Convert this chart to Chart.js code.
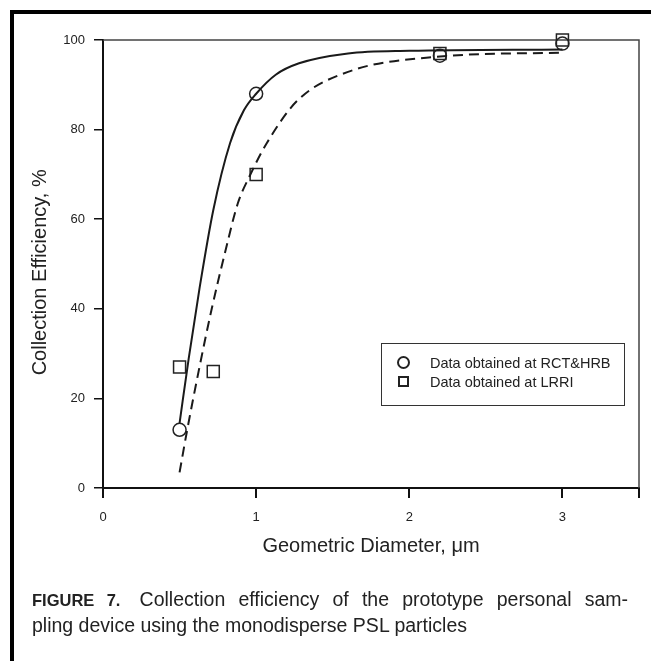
<!DOCTYPE html>
<html>
<head>
<meta charset="utf-8">
<script src="https://cdn.jsdelivr.net/npm/chart.js@4.4.1/dist/chart.umd.min.js"></script>
<style>
  body { margin: 0; background: #fff; font-family: "Liberation Sans", Arial, sans-serif; color: #222; }
  #wrap { position: relative; width: 651px; height: 661px; overflow: hidden; }
  #frame { position: absolute; left: 10px; top: 10px; width: 700px; height: 700px;
           border-left: 4px solid #000; border-top: 4px solid #000; }
  #chartBox { position: absolute; left: 0; top: 0; width: 651px; height: 661px; }
  #legend { position: absolute; left: 381px; top: 343px; width: 244px; height: 63px;
            border: 1px solid #333; box-sizing: border-box; font-size: 14.5px; }
  .row { position: absolute; left: 48px; height: 18px; line-height: 18px; white-space: nowrap; }
  .sym { position: absolute; box-sizing: border-box; border: 2px solid #222; }
  #caption { position: absolute; left: 32px; top: 587px; width: 596px; font-size: 19.5px; line-height: 25px; }
  #caption .l1 { text-align: justify; text-align-last: justify; white-space: nowrap; }
  #caption .l2 { white-space: nowrap; }
  #caption b { font-size: 16.5px; margin-right: 6px; }
</style>
</head>
<body>
<div id="wrap">
  <div id="frame"></div>
  <div id="chartBox"><canvas id="effChart"></canvas></div>
  <div id="legend">
    <div class="sym" style="left:15px; top:12px; width:13px; height:13px; border-radius:50%;"></div>
    <div class="row" style="top:10px;">Data obtained at RCT&amp;HRB</div>
    <div class="sym" style="left:16px; top:32px; width:11px; height:11px;"></div>
    <div class="row" style="top:29px;">Data obtained at LRRI</div>
  </div>
  <div id="caption">
    <div class="l1"><b>FIGURE 7.</b> Collection efficiency of the prototype personal sam-</div>
    <div class="l2">pling device using the monodisperse PSL particles</div>
  </div>
</div>
<script>
const rctX = [0.5, 1.0, 2.2, 3.0];
const rctY = [13, 88, 96.5, 99.2];
const lrriX = [0.5, 0.72, 1.0, 2.2, 3.0];
const lrriY = [27, 26, 70, 97, 100];

// fitted curves
const fitRctX = [0.5, 0.56, 0.63, 0.72, 0.83, 0.92, 1.0, 1.13, 1.28, 1.6, 2.0, 3.0];
const fitRctY = [14.5, 29, 44.5, 62, 77, 84.3, 88, 92.3, 94.8, 97, 97.6, 97.9];
const fitLrriX = [0.5, 0.55, 0.63, 0.71, 0.8, 0.88, 0.96, 1.07, 1.27, 1.61, 2.2, 3.0];
const fitLrriY = [3.5, 13, 27, 40, 53, 63.5, 69.8, 77, 86.5, 93, 96.3, 97.2];

// axis ticks
const xTickVals = [0, 1, 2, 3, 3.5];
const xTickLabels = ['0', '1', '2', '3', ''];
const yTickVals = [0, 20, 40, 60, 80, 100];

function pts(xs, ys) {
    return xs.map((x, i) => ({x: x, y: ys[i]}));
}

// thin box on top and right of the plot
const frameBox = {
    id: 'frameBox',
    beforeDatasetsDraw(chart) {
        const {ctx, chartArea: a} = chart;
        ctx.save();
        ctx.strokeStyle = '#444';
        ctx.lineWidth = 1.5;
        ctx.beginPath();
        ctx.moveTo(a.left, a.top);
        ctx.lineTo(a.right, a.top);
        ctx.lineTo(a.right, a.bottom);
        ctx.stroke();
        ctx.restore();
    }
};

const tickFont = {family: 'Liberation Sans', size: 13};
const titleFont = {family: 'Liberation Sans', size: 20};

new Chart(document.getElementById('effChart'), {
    type: 'scatter',
    data: {
        datasets: [
            {
                label: 'fit RCT&HRB',
                data: pts(fitRctX, fitRctY),
                showLine: true,
                cubicInterpolationMode: 'monotone',
                borderColor: '#1a1a1a',
                borderWidth: 2,
                pointRadius: 0,
                clip: false
            },
            {
                label: 'fit LRRI',
                data: pts(fitLrriX, fitLrriY),
                showLine: true,
                cubicInterpolationMode: 'monotone',
                borderColor: '#1a1a1a',
                borderWidth: 2,
                borderDash: [10, 6],
                pointRadius: 0,
                clip: false
            },
            {
                label: 'Data obtained at RCT&HRB',
                data: pts(rctX, rctY),
                pointStyle: 'circle',
                pointRadius: 6.5,
                borderWidth: 1.5,
                borderColor: '#222',
                backgroundColor: 'rgba(0,0,0,0)',
                clip: false
            },
            {
                label: 'Data obtained at LRRI',
                data: pts(lrriX, lrriY),
                pointStyle: 'rect',
                pointRadius: 8.5,
                borderWidth: 1.5,
                borderColor: '#222',
                backgroundColor: 'rgba(0,0,0,0)',
                clip: false
            }
        ]
    },
    options: {
        responsive: true,
        maintainAspectRatio: false,
        animation: false,
        layout: {
            padding: {left: 28, right: 11, top: 40, bottom: 103}
        },
        scales: {
            x: {
                type: 'linear',
                min: 0,
                max: 3.5,
                afterBuildTicks: s => { s.ticks = xTickVals.map(v => ({value: v})); },
                afterFit: s => { s.height = 70; },
                ticks: {
                    font: tickFont,
                    color: '#222',
                    padding: 12,
                    maxRotation: 0,
                    callback: (v, i) => xTickLabels[i]
                },
                grid: {drawOnChartArea: false, drawTicks: true, tickLength: 10, color: '#111', lineWidth: 2},
                border: {display: true, color: '#111', width: 2},
                title: {
                    display: true,
                    text: 'Geometric Diameter, \u03bcm',
                    font: titleFont,
                    color: '#222',
                    padding: 0
                }
            },
            y: {
                min: 0,
                max: 100,
                afterBuildTicks: s => { s.ticks = yTickVals.map(v => ({value: v})); },
                afterFit: s => { s.width = 75; },
                ticks: {
                    font: tickFont,
                    color: '#222',
                    padding: 9
                },
                grid: {drawOnChartArea: false, drawTicks: true, tickLength: 9, color: '#111', lineWidth: 1.5},
                border: {display: true, color: '#111', width: 2},
                title: {
                    display: true,
                    text: 'Collection Efficiency, %\u00a0\u00a0\u00a0',   // trailing spaces nudge it down
                    font: titleFont,
                    color: '#222',
                    padding: 0
                }
            }
        },
        plugins: {
            legend: {display: false},
            tooltip: {enabled: false}
        }
    },
    plugins: [frameBox]
});
</script>
</body>
</html>
